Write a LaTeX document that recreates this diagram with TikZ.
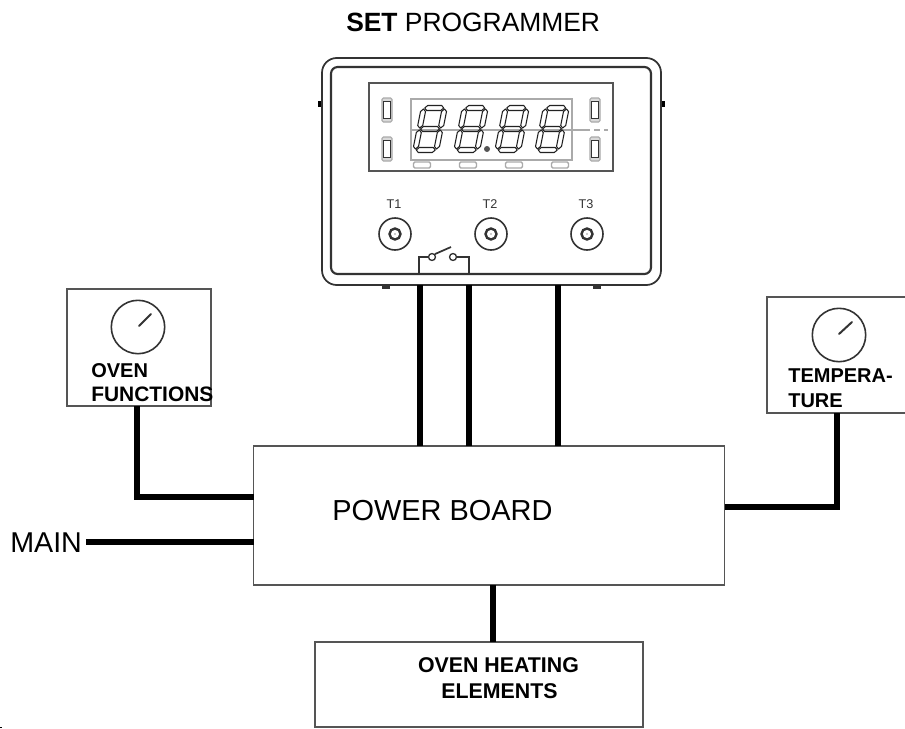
\documentclass[tikz,border=0pt]{standalone}
\usepackage{fontspec}
\setmainfont{Liberation Sans}
\definecolor{boxgray}{HTML}{555555}
\definecolor{bezel}{HTML}{333333}
\definecolor{segline}{HTML}{222222}
\definecolor{panelgray}{HTML}{AAAAAA}
\tikzset{
  x=0.75pt, y=-0.75pt,
  boxnode/.style={draw=boxgray, line width=1.1pt, fill=white, inner sep=0pt, outer sep=0pt},
  wire/.style={line width=4.4pt, black, line cap=butt, line join=miter},
  smalllabel/.style={font=\fontsize{15}{15}\selectfont\bfseries, anchor=base west, inner sep=0pt},
  biglabel/.style={anchor=base west, inner sep=0pt},
  seg/.style={draw=segline, line width=0.8pt, line join=round},
  dial/.style={draw=bezel, line width=1.2pt},
  pointer/.style={draw=bezel, line width=1.5pt, line cap=round},
  ledouter/.style={draw=panelgray, fill=panelgray!45, line width=0.8pt, rounded corners=1pt},
  ledinner/.style={draw=bezel, line width=1.1pt, fill=white},
  tabled/.style={draw=panelgray, line width=1pt, rounded corners=1pt},
  thin wire/.style={draw=bezel, line width=1.3pt},
}
\newcommand{\hseg}[3]{\draw[seg] (#1,#3) -- ++(2.5,-2.5) -- (#2-2.5,#3-2.5) -- (#2,#3) -- (#2-2.5,#3+2.5) -- (#1+2.5,#3+2.5) -- cycle;}
\newcommand{\vseg}[3]{\draw[seg] (#1,#2) -- ++(2.5,2.5) -- (#1+2.5,#3-2.5) -- (#1,#3) -- (#1-2.5,#3-2.5) -- (#1-2.5,#2+2.5) -- cycle;}
\begin{document}
\begin{tikzpicture}
\useasboundingbox (0,0) rectangle (905,728);
% programmer housing
\node[draw=bezel, line width=1.3pt, rounded corners=11pt, minimum width=254.25pt, minimum height=170.25pt, inner sep=0pt, outer sep=0pt] (prog) at (491.5,171.5) {};
\node[draw=bezel, line width=1.6pt, rounded corners=5pt, minimum width=240pt, minimum height=155.25pt, inner sep=0pt, outer sep=0pt] (inner) at (491,170.5) {};
\node[draw=boxgray, line width=1.2pt, minimum width=183pt, minimum height=66pt, inner sep=0pt, outer sep=0pt] (disp) at (491,127) {};
\node[draw=panelgray, line width=0.9pt, minimum width=120.75pt, minimum height=45.75pt, inner sep=0pt, outer sep=0pt] (panel) at (491.5,129.5) {};
% side and bottom lugs
\fill[black] (317.5,101) rectangle (321,107);
\fill[black] (661.5,101) rectangle (665,107);
\fill[bezel] (382,286) rectangle (390,288.5);
\fill[bezel] (593,286) rectangle (601,288.5);
% dash-dot line
\draw[panelgray, line width=0.8pt] (411,130) -- (590,130);
\draw[panelgray, line width=0.8pt] (594,130) -- (600,130) (604,130) -- (608,130);
% digits
\foreach \cx in {430,471,512,552}{
  \begin{scope}[shift={(\cx,129)}, xslant=0.2]
    \hseg{-9.5}{9.5}{-21}
    \hseg{-9.5}{9.5}{0}
    \hseg{-9.5}{9.5}{21}
    \vseg{-10.5}{-20}{-1}
    \vseg{10.5}{-20}{-1}
    \vseg{-10.5}{1}{20}
    \vseg{10.5}{1}{20}
  \end{scope}
}
\fill[boxgray] (487,149) circle[radius=3];
% LEDs
\foreach \lx/\ly in {387/110,387/149,595/110,595/149}{
  \draw[ledouter] (\lx-5,\ly-12) rectangle (\lx+5,\ly+12);
  \draw[ledinner] (\lx-3.5,\ly-8.5) rectangle (\lx+3.5,\ly+8.5);
}
% tabs
\foreach \tx in {422,468,514,560}{
  \draw[tabled] (\tx-8.5,162) rectangle (\tx+8.5,168);
}
% knobs
\foreach \kx/\kn in {395/T1,491/T2,587/T3}{
  \node[font=\fontsize{9.5}{10}\selectfont, inner sep=0pt, text=bezel] (lab\kn) at (\kx-1,204) {\kn};
  \node[circle, draw=bezel, line width=1.2pt, minimum size=24pt, inner sep=0pt] (knob\kn) at (\kx,234) {};
  \draw[bezel, line width=1.8pt] (\kx,234) circle[radius=5.5];
  \fill[boxgray!40] (\kx,234) circle[radius=1.2];
}
% switch
\node[circle, draw=bezel, line width=1pt, minimum size=5.2pt, inner sep=0pt, fill=white] (swa) at (432,257) {};
\node[circle, draw=bezel, line width=1pt, minimum size=5.2pt, inner sep=0pt, fill=white] (swb) at (453,257) {};
\coordinate (swl) at (419,274);
\coordinate (swr) at (469,274);
\draw[thin wire] (swl) -- (419,0 |- swa) -- (swa);
\draw[thin wire] (swb) -- (469,0 |- swb) -- (swr);
\coordinate (armend) at (451,247);
\draw[thin wire] (swa.north east) -- (armend);
% title
\node[biglabel, font=\fontsize{19.8}{20}\selectfont] (title) at (346,31) {\textbf{SET} PROGRAMMER};
% boxes
\node[boxnode, minimum width=108pt, minimum height=87.75pt] (fn) at (139,347.5) {};
\node[boxnode, minimum width=106.5pt, minimum height=87pt] (temp) at (838,355) {};
\node[boxnode, minimum width=353.25pt, minimum height=104.25pt] (board) at (489,515.5) {};
\node[boxnode, minimum width=246pt, minimum height=63.75pt] (heat) at (479,684.5) {};
% dials
\draw[dial] (138,327) circle[radius=26.7];
\draw[pointer] (139,326) -- (151,314);
\draw[dial] (839,335) circle[radius=26.7];
\draw[pointer] (839,334) -- (852,322);
% labels
\node[smalllabel] (oven) at (91,377) {OVEN};
\node[smalllabel, font=\fontsize{15.7}{16}\selectfont\bfseries] (funcs) at (91,401) {FUNCTIONS};
\node[smalllabel] (tempa) at (788,382) {TEMPERA-};
\node[smalllabel] (tempb) at (788,407) {TURE};
\node[biglabel, font=\fontsize{21.7}{22}\selectfont] (pb) at (332,520) {POWER BOARD};
\node[biglabel, font=\fontsize{21.5}{22}\selectfont] (mainl) at (10,552) {MAIN};
\node[smalllabel, anchor=base, font=\fontsize{16}{16}\selectfont\bfseries] (heata) at (498.5,672) {OVEN HEATING};
\node[smalllabel, anchor=base, font=\fontsize{16}{16}\selectfont\bfseries] (heatb) at (499.5,698) {ELEMENTS};
% connectors
\draw[wire] (420,0 |- prog.south) -- (420,0 |- board.north);
\draw[wire] (469,0 |- prog.south) -- (469,0 |- board.north);
\draw[wire] (558,0 |- prog.south) -- (558,0 |- board.north);
\draw[wire] (137,0 |- fn.south) -- (137,497) -- (137,497 -| board.west);
\draw[wire] (86,542) -- (86,542 -| board.west);
\draw[wire] (board.east |- 0,507) -- (837,507) -- (837,0 |- temp.south);
\draw[wire] (493,0 |- board.south) -- (493,0 |- heat.north);
% stray mark
\fill[black] (0,726.5) rectangle (2,728);
\end{tikzpicture}
\end{document}
